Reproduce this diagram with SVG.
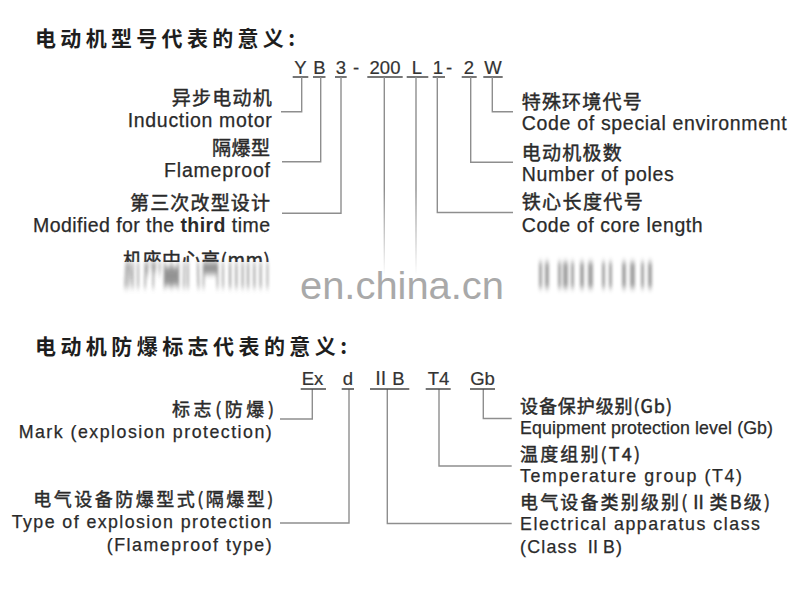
<svg xmlns="http://www.w3.org/2000/svg" width="800" height="593" viewBox="0 0 800 593">
<style>
.title{font-family:"Noto Sans CJK SC","Liberation Sans",sans-serif;font-weight:700;font-size:21px;fill:#1e1e1e}
.zh{font-family:"Noto Sans CJK SC","Liberation Sans",sans-serif;font-size:19px;fill:#2a2a2a;stroke:#2a2a2a;stroke-width:0.45}
.en{font-family:"Liberation Sans","Noto Sans CJK SC",sans-serif;font-size:19.5px;fill:#2a2a2a;stroke:#2a2a2a;stroke-width:0.25}
.zh2{font-family:"Noto Sans CJK SC","Liberation Sans",sans-serif;font-size:18px;fill:#2a2a2a;stroke:#2a2a2a;stroke-width:0.45}
.en2{font-family:"Liberation Sans","Noto Sans CJK SC",sans-serif;font-size:17.8px;fill:#2a2a2a;stroke:#2a2a2a;stroke-width:0.25}
.code{font-family:"Liberation Sans","Noto Sans CJK SC",sans-serif;font-size:18.5px;fill:#333;text-anchor:middle;stroke:#333;stroke-width:0.2}
.ul{stroke:#4a4a4a;stroke-width:1.6;fill:none}
.ln{stroke:#8e8e8e;stroke-width:1.4;fill:none}
.end{text-anchor:end}
.wm{font-family:"Liberation Sans",sans-serif;font-size:38px;fill:#a9a9a9}
</style>
<defs>
<clipPath id="topcut"><rect x="100" y="240" width="200" height="22"/></clipPath>
<clipPath id="slice"><rect x="100" y="260" width="200" height="2"/></clipPath>
<filter id="smear" x="-10%" y="-60%" width="120%" height="220%"><feGaussianBlur stdDeviation="1.6 3"/></filter>
<linearGradient id="fade" x1="0" y1="0" x2="0" y2="1">
<stop offset="0" stop-color="#fff"/><stop offset="0.6" stop-color="#fff"/><stop offset="1" stop-color="#000"/>
</linearGradient>
<mask id="lineFade"><rect x="370" y="60" width="60" height="215" fill="url(#fade)"/></mask>
</defs>
<rect width="800" height="593" fill="#fff"/>

<g id="title1"><text class="title" x="35" y="46" textLength="260" lengthAdjust="spacing">电动机型号代表的意义:</text></g>

<g id="code1">
<text class="code" x="300.5" y="74">Y</text>
<text class="code" x="319.5" y="74">B</text>
<text class="code" x="341" y="74">3</text>
<text class="code" x="356" y="74">-</text>
<text class="code" x="385" y="74">200</text>
<text class="code" x="417" y="74">L</text>
<text class="code" x="438" y="74">1</text>
<text class="code" x="449" y="74">-</text>
<text class="code" x="469" y="74">2</text>
<text class="code" x="493" y="74">W</text>
<path class="ul" d="M292.7,77H308.3M313,77H325.5M335,77H346.7M367.3,77H402.7M406.7,77H428.3M432.7,77H445M461.7,77H476.7M483.3,77H502.7"/>
</g>

<g id="connectors">
<path class="ln" d="M301.7,77V111.7H281"/>
<path class="ln" d="M320.7,77V161.7H282"/>
<path class="ln" d="M341,77V213.3H282"/>
<g mask="url(#lineFade)"><path class="ln" d="M384.3,77V274"/><path class="ln" d="M416,77V274"/></g>
<path class="ln" d="M437.3,77V212.5H513"/>
<path class="ln" d="M470.7,77V162.3H513"/>
<path class="ln" d="M492.3,77V111.7H513"/>
<path class="ln" d="M312.3,389V419H280"/>
<path class="ln" d="M349,389V523H280"/>
<path class="ln" d="M387.3,389V523.5H511.7"/>
<path class="ln" d="M439,389V466H511.7"/>
<path class="ln" d="M483.3,389V418.5H511.7"/>
</g>

<g id="induction-motor">
<text class="zh end" x="271.7" y="104.5" textLength="100" lengthAdjust="spacing">异步电动机</text>
<text class="en end" x="271.7" y="126.5" textLength="144" lengthAdjust="spacing">Induction motor</text>
</g>
<g id="flameproof">
<text class="zh end" x="270" y="154.5" textLength="58" lengthAdjust="spacing">隔爆型</text>
<text class="en end" x="270" y="176.5" textLength="106" lengthAdjust="spacing">Flameproof</text>
</g>
<g id="third-time">
<text class="zh end" x="270" y="210" textLength="140" lengthAdjust="spacing">第三次改型设计</text>
<text class="en end" x="270" y="231.7" textLength="237" lengthAdjust="spacing">Modified for the <tspan font-weight="700" style="stroke-width:0">third</tspan> time</text>
</g>
<g id="frame-height">
<g clip-path="url(#topcut)"><text class="zh end" x="270" y="266.5" textLength="147" lengthAdjust="spacing">机座中心高(mm)</text></g>
<g filter="url(#smear)" opacity="0.7">
<g transform="translate(0,275) scale(1,13) translate(0,-261)">
<g clip-path="url(#slice)"><text class="zh end" x="270" y="266.5" textLength="147" lengthAdjust="spacing" style="fill:#666;stroke:none" aria-hidden="true">机座中心高(mm)</text></g>
</g>
</g>
</g>
<g id="frame-length-blur" filter="url(#smear)" opacity="0.7" fill="#7a7a7a">
<rect x="539" y="262" width="3" height="26"/><rect x="545" y="262" width="4" height="26"/>
<rect x="558" y="262" width="3" height="26"/><rect x="563" y="262" width="5" height="26"/><rect x="571" y="262" width="3" height="26"/>
<rect x="580" y="262" width="4" height="26"/><rect x="588" y="262" width="5" height="26"/>
<rect x="602" y="262" width="3" height="26"/><rect x="609" y="262" width="3" height="26"/>
<rect x="622" y="262" width="4" height="26"/><rect x="630" y="262" width="5" height="26"/><rect x="641" y="262" width="3" height="26"/><rect x="648" y="262" width="4" height="26"/>
</g>

<g id="special-env">
<text class="zh" x="521.7" y="108.5" textLength="120" lengthAdjust="spacing">特殊环境代号</text>
<text class="en" x="521.7" y="130" textLength="265" lengthAdjust="spacing">Code of special environment</text>
</g>
<g id="poles">
<text class="zh" x="521.7" y="159.5" textLength="100" lengthAdjust="spacing">电动机极数</text>
<text class="en" x="521.7" y="181" textLength="152" lengthAdjust="spacing">Number of poles</text>
</g>
<g id="core-length">
<text class="zh" x="521.7" y="208.5" textLength="121" lengthAdjust="spacing">铁心长度代号</text>
<text class="en" x="521.7" y="231.7" textLength="181" lengthAdjust="spacing">Code of core length</text>
</g>

<g id="watermark"><text class="wm" x="300" y="299" textLength="204" lengthAdjust="spacingAndGlyphs">en.china.cn</text></g>

<g id="title2"><text class="title" x="35" y="354" textLength="312" lengthAdjust="spacing">电动机防爆标志代表的意义:</text></g>

<g id="code2">
<text class="code" x="312.5" y="385">Ex</text>
<text class="code" x="348" y="385">d</text>
<text class="code" x="388" y="385" textLength="33" lengthAdjust="spacing">Ⅱ B</text>
<text class="code" x="438.5" y="385">T4</text>
<text class="code" x="482.5" y="385">Gb</text>
<path class="ul" d="M300.7,389H326M341.7,389H354M370,389H409.3M425.7,389H450.7M470,389H495"/>
</g>

<g id="mark">
<text class="zh2 end" x="274" y="415.5" textLength="102" lengthAdjust="spacing">标志(防爆)</text>
<text class="en2 end" x="271.7" y="438" textLength="253" lengthAdjust="spacing">Mark (explosion protection)</text>
</g>
<g id="protection-type">
<text class="zh2 end" x="273.3" y="505.5" textLength="240" lengthAdjust="spacing">电气设备防爆型式(隔爆型)</text>
<text class="en2 end" x="271.7" y="528.3" textLength="260" lengthAdjust="spacing">Type of explosion protection</text>
<text class="en2 end" x="271.7" y="550.5" textLength="165" lengthAdjust="spacing">(Flameproof type)</text>
</g>
<g id="epl">
<text class="zh2" x="520" y="412.5" textLength="152" lengthAdjust="spacing">设备保护级别(Gb)</text>
<text class="en2" x="520" y="434" textLength="253" lengthAdjust="spacing">Equipment protection level (Gb)</text>
</g>
<g id="temperature">
<text class="zh2" x="520" y="460.5" textLength="120" lengthAdjust="spacing">温度组别(T4)</text>
<text class="en2" x="520" y="481.7" textLength="222" lengthAdjust="spacing">Temperature group (T4)</text>
</g>
<g id="apparatus-class">
<text class="zh2" x="520" y="509" textLength="250" lengthAdjust="spacing">电气设备类别级别(Ⅱ类B级)</text>
<text class="en2" x="520" y="529.5" textLength="240" lengthAdjust="spacing">Electrical apparatus class</text>
<text class="en2" x="520" y="553" textLength="102" lengthAdjust="spacing">(Class ⅡB)</text>
</g>
</svg>
